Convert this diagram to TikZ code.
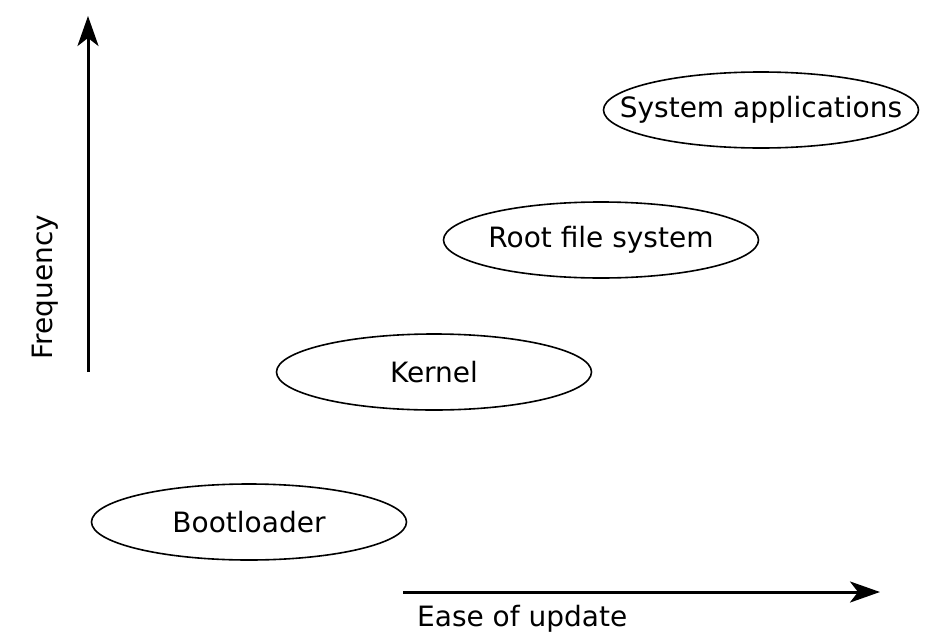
\documentclass[tikz,border=0pt]{standalone}
\usepackage{fontspec}
\setmainfont{DejaVu Sans}
\usetikzlibrary{positioning,arrows.meta,shapes.geometric}

\begin{document}
\begin{tikzpicture}[
    x=1pt, y=-1pt,
    layerOval/.style={ellipse, draw=black, line width=1.6pt, minimum width=315pt, minimum height=76pt, inner sep=0pt, font=\fontsize{28}{32}\selectfont},
    axisArrow/.style={line width=3pt, -{Stealth[length=30pt,width=21pt,inset=8pt]}},
    axisLabel/.style={font=\fontsize{28}{32}\selectfont}
]
    \useasboundingbox (0,0) rectangle (940,640);

    % layers
    \node[layerOval] (sysapps) at (761,110) {\makebox[0pt]{System applications}};
    \node[layerOval] (rootfs)  at (601,240) {\makebox[0pt]{Root file system}};
    \node[layerOval] (kernel)  at (434,372) {\makebox[0pt]{Kernel}};
    \node[layerOval] (boot)    at (249,522) {\makebox[0pt]{Bootloader}};

    % axes
    \coordinate (freqStart) at (88,372);
    \coordinate (freqEnd)   at (88,16);
    \coordinate (easeStart) at (403,592);
    \coordinate (easeEnd)   at (880,592);

    \draw[axisArrow] (freqStart) -- (freqEnd);
    \draw[axisArrow] (easeStart) -- (easeEnd);

    \node[axisLabel, rotate=90] (freqLabel) at (45,287) {Frequency};
    \node[axisLabel, anchor=west, inner sep=0pt] (easeLabel) at (417,619) {Ease of update};
\end{tikzpicture}
\end{document}
